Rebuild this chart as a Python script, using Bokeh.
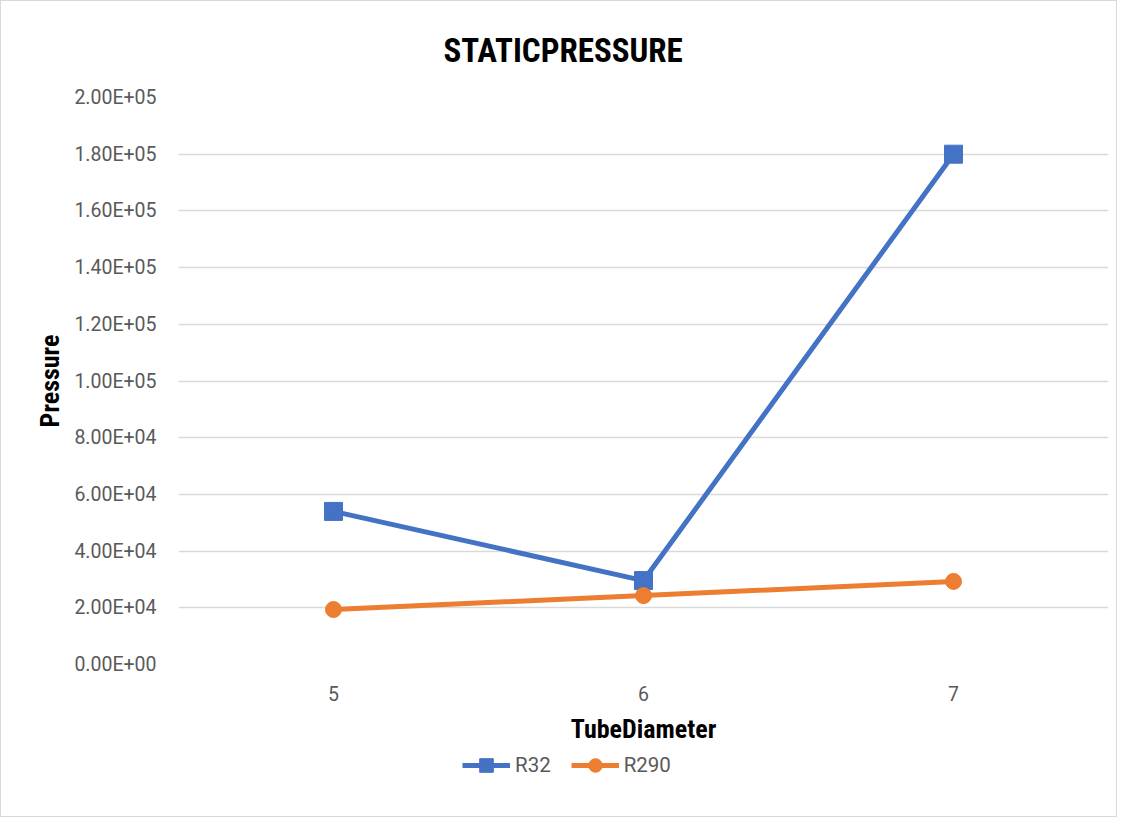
from bokeh.plotting import figure
from bokeh.layouts import column
from bokeh.models import (ColumnDataSource, FactorRange, Range1d, FixedTicker,
                          Legend, LegendItem, Title)
from bokeh.embed import file_html
from bokeh.resources import INLINE

# ---- data ----
diameters = ["5", "6", "7"]
r32 = [54000, 29600, 180000]
r290 = [19400, 24300, 29300]
y_ticks = [0, 20000, 40000, 60000, 80000, 100000, 120000, 140000, 160000, 180000, 200000]
y_tick_labels = ["0.00E+00", "2.00E+04", "4.00E+04", "6.00E+04", "8.00E+04", "1.00E+05",
                 "1.20E+05", "1.40E+05", "1.60E+05", "1.80E+05", "2.00E+05"]
series_names = ["R32", "R290"]
title_text = "STATICPRESSURE"
x_title = "TubeDiameter"
y_title = "Pressure"

BLUE = "#4472C4"
ORANGE = "#ED7D31"
GRID = "#D9D9D9"
TICK = "#595959"
NARROW = "Liberation Sans Narrow, Arial Narrow, Roboto Condensed, sans-serif"
TICKFONT = "Roboto"

src = ColumnDataSource(dict(x=diameters, r32=r32, r290=r290))


def draw_series(fig):
    a = fig.line("x", "r32", source=src, line_color=BLUE, line_width=5)
    b = fig.scatter("x", "r32", source=src, marker="square", size=18, fill_color=BLUE, line_color=BLUE)
    c = fig.line("x", "r290", source=src, line_color=ORANGE, line_width=5)
    d = fig.scatter("x", "r290", source=src, marker="circle", size=16, fill_color=ORANGE, line_color=ORANGE)
    return a, b, c, d


# ---- main chart ----
p = figure(width=1115, height=745, output_backend="svg", toolbar_location=None,
           x_range=FactorRange(*diameters, range_padding=0),
           y_range=Range1d(0, 200000), title=None,
           min_border_left=177, min_border_right=8, min_border_top=96, min_border_bottom=82)

p.add_layout(Title(text=title_text, text_font=NARROW, text_font_size="33px",
                   text_font_style="bold", text_color="#000000", align="left",
                   offset=265, standoff=55), "above")

draw_series(p)

p.outline_line_color = None
p.xgrid.grid_line_color = None
p.ygrid.grid_line_color = GRID
p.ygrid.grid_line_width = 1.3

p.yaxis.ticker = FixedTicker(ticks=y_ticks)
p.yaxis.major_label_overrides = {t: lab for t, lab in zip(y_ticks, y_tick_labels)}
for ax in (p.xaxis[0], p.yaxis[0]):
    ax.axis_line_color = None
    ax.major_tick_line_color = None
    ax.minor_tick_line_color = None
    ax.major_label_text_font = TICKFONT
    ax.major_label_text_font_size = "19.5px"
    ax.major_label_text_color = TICK
    ax.axis_label_text_font = NARROW
    ax.axis_label_text_font_style = "bold"
    ax.axis_label_text_font_size = "26px"
    ax.axis_label_text_color = "#000000"

p.xaxis.axis_label = x_title
p.xaxis.major_label_standoff = 15
p.xaxis.axis_label_standoff = 10
p.yaxis.axis_label = y_title
p.yaxis.major_label_standoff = 16
p.yaxis.axis_label_standoff = 6

# ---- legend strip below the chart ----
q = figure(width=1115, height=70, output_backend="svg", toolbar_location=None,
           x_range=FactorRange(*diameters, range_padding=0), y_range=Range1d(-2, -1),
           x_axis_location=None, y_axis_location=None,
           min_border_left=0, min_border_right=0, min_border_top=0, min_border_bottom=0)
q.grid.grid_line_color = None
q.outline_line_color = None
ql1, qm1, ql2, qm2 = draw_series(q)

legend = Legend(items=[LegendItem(label=series_names[0], renderers=[ql1, qm1]),
                       LegendItem(label=series_names[1], renderers=[ql2, qm2])],
                orientation="horizontal", location=(284, 34),
                border_line_color=None, background_fill_alpha=0,
                padding=0, margin=0, spacing=20, glyph_width=48, glyph_height=34,
                label_standoff=5, label_text_font=TICKFONT, label_text_font_size="20.5px",
                label_text_color=TICK)
q.add_layout(legend, "center")

layout = column(p, q, spacing=0, styles={"border": "1px solid #D9D9D9"})

open("out.html", "w").write(file_html(layout, INLINE))
